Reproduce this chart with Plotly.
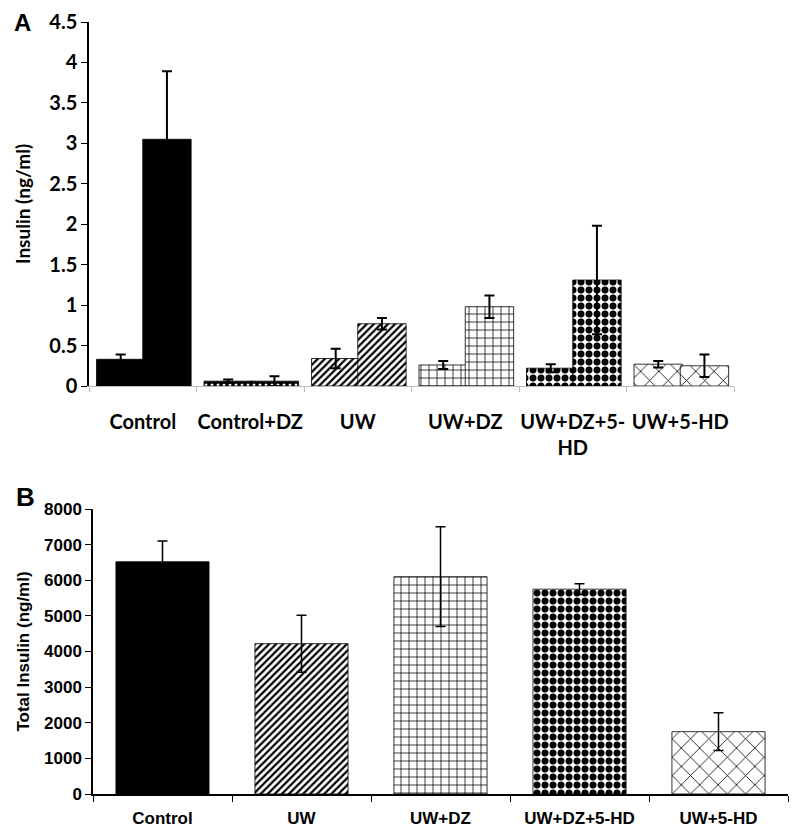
import plotly.graph_objects as go

# Panel A data
cats_a = ["Control", "Control+DZ", "UW", "UW+DZ", "UW+DZ+5-<br>HD", "UW+5-HD"]
a_first = [0.33, 0.06, 0.34, 0.26, 0.22, 0.27]
a_first_err = [0.06, 0.02, 0.12, 0.05, 0.05, 0.04]
a_second = [3.05, 0.06, 0.77, 0.98, 1.31, 0.25]
a_second_err = [0.84, 0.06, 0.07, 0.14, 0.67, 0.14]
yticks_a = [0, 0.5, 1, 1.5, 2, 2.5, 3, 3.5, 4, 4.5]

# Panel B data
cats_b = ["Control", "UW", "UW+DZ", "UW+DZ+5-HD", "UW+5-HD"]
b_vals = [6520, 4220, 6100, 5750, 1750]
b_err = [580, 800, 1400, 150, 530]
yticks_b = [0, 1000, 2000, 3000, 4000, 5000, 6000, 7000, 8000]

# pattern styles per group
STY = {
    "Control": dict(color="black"),
    "Control+DZ": dict(color="black", pattern=dict(shape=".", fgcolor="white", bgcolor="black",
                                                   solidity=0.2, size=6, fillmode="replace")),
    "UW": dict(color="white", pattern=dict(shape="/", fgcolor="black", bgcolor="white",
                                           solidity=0.45, size=5, fillmode="replace")),
    "UW+DZ": dict(color="white", pattern=dict(shape="+", fgcolor="black", bgcolor="white",
                                              solidity=0.18, size=8, fillmode="replace")),
    "UW+DZ+5-HD": dict(color="white", pattern=dict(shape=".", fgcolor="black", bgcolor="white",
                                                   solidity=0.6, size=8, fillmode="replace")),
    "UW+5-HD": dict(color="white", pattern=dict(shape="x", fgcolor="black", bgcolor="white",
                                                solidity=0.12, size=13, fillmode="replace")),
}
keys_a = ["Control", "Control+DZ", "UW", "UW+DZ", "UW+DZ+5-HD", "UW+5-HD"]

fig = go.Figure()

for i, cat in enumerate(cats_a):
    sty = STY[keys_a[i]]
    for vals, errs, off in [(a_first, a_first_err, -0.43), (a_second, a_second_err, 0.0)]:
        fig.add_trace(go.Bar(
            x=[cat], y=[vals[i]], xaxis="x", yaxis="y",
            offset=off, width=0.45,
            marker=dict(line=dict(color="black", width=0.8), **sty),
            error_y=dict(type="data", array=[errs[i]], color="black", thickness=2, width=5),
            showlegend=False,
        ))

for i, cat in enumerate(cats_b):
    sty = STY[cat]
    fig.add_trace(go.Bar(
        x=[cat], y=[b_vals[i]], xaxis="x2", yaxis="y2", width=0.67,
        marker=dict(line=dict(color="black", width=0.8), **sty),
        error_y=dict(type="data", array=[b_err[i]], color="black", thickness=1.5, width=5),
        showlegend=False,
    ))

fa = "Lato"
fb = "Liberation Sans"

fig.update_layout(
    width=800, height=840,
    margin=dict(l=0, r=0, t=0, b=0, autoexpand=False),
    paper_bgcolor="white", plot_bgcolor="white",
    barmode="overlay",
    xaxis=dict(domain=[89/800, 734/800], anchor="y", automargin=False,
               categoryorder="array", categoryarray=cats_a,
               showline=True, linecolor="#bbbbbb", linewidth=1,
               ticks="outside", tickson="boundaries", tickcolor="#bbbbbb", ticklen=5,
               ticklabelstandoff=18, tickangle=0,
               tickfont=dict(family=fa, size=20, color="black", weight="bold"),
               showgrid=False, zeroline=False),
    yaxis=dict(domain=[1-386/840, 1-22/840], anchor="x", range=[0, 4.5], automargin=False,
               tickvals=yticks_a, ticktext=[f"{v:g}" for v in yticks_a],
               showline=True, linecolor="black", linewidth=1.5,
               ticks="outside", ticklen=6, tickcolor="black",
               tickfont=dict(family=fa, size=20, color="black", weight="bold"),
               title=dict(text="Insulin (ng/ml)", standoff=14,
                          font=dict(family=fa, size=19, color="black", weight="bold")),
               showgrid=False, zeroline=False),
    xaxis2=dict(domain=[93/800, 788/800], anchor="y2", automargin=False,
                categoryorder="array", categoryarray=cats_b,
                showline=True, linecolor="black", linewidth=1.5,
                ticks="outside", tickson="boundaries", tickcolor="black", ticklen=6,
                ticklabelstandoff=8, tickangle=0,
                tickfont=dict(family=fb, size=17, color="black", weight="bold"),
                showgrid=False, zeroline=False),
    yaxis2=dict(domain=[1-794/840, 1-509/840], anchor="x2", range=[0, 8000], automargin=False,
                tickvals=yticks_b,
                showline=True, linecolor="black", linewidth=1.5,
                ticks="outside", ticklen=6, tickcolor="black",
                tickfont=dict(family=fb, size=17, color="black", weight="bold"),
                title=dict(text="Total Insulin (ng/ml)", standoff=10,
                           font=dict(family=fb, size=17, color="black", weight="bold")),
                showgrid=False, zeroline=False),
    annotations=[
        dict(text="A", x=22/800, y=1-22/840, xref="paper", yref="paper",
             xanchor="center", yanchor="middle",
             showarrow=False, font=dict(family=fb, size=24, color="black", weight="bold")),
        dict(text="B", x=25/800, y=1-497/840, xref="paper", yref="paper",
             xanchor="center", yanchor="middle",
             showarrow=False, font=dict(family=fb, size=26, color="black", weight="bold")),
    ],
)

fig.write_html("out.html", config={"displayModeBar": False},
               post_script="document.body.style.margin='0';document.body.style.overflow='hidden';")
